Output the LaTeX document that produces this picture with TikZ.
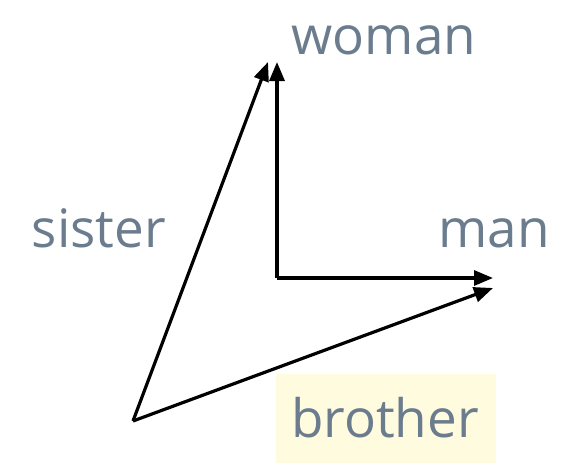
\documentclass[tikz,border=0pt]{standalone}
\usepackage{fontspec}
\setmainfont{Open Sans}
\usetikzlibrary{arrows.meta, positioning}
\definecolor{labelgray}{HTML}{6A7C8E}
\definecolor{paleyellow}{HTML}{FFFBDF}

\begin{document}
\begin{tikzpicture}[x=1pt, y=-1pt, vec/.style={-{Triangle[length=19pt, width=15pt]}, line width=3.2pt},
  word/.style={text=labelgray, font=\fontsize{53}{58}\selectfont, inner sep=0pt, anchor=base}]
  \useasboundingbox (0,0) rectangle (567,464);
  % Origins and tips
  \coordinate (o1) at (277,278);
  \coordinate (o2) at (133,421);
  \coordinate (wtip) at (277,62);
  \coordinate (mtip) at (493,278);
  \coordinate (stip) at (268,62);
  \coordinate (btip) at (493,288);

  % Highlight box
  \node (bbox) [fill=paleyellow, minimum width=220pt, minimum height=89pt, inner sep=0pt] at (386,418.5) {};

  % Labels
  \node (woman) [word] at (384,54) {woman};
  \node (man) [word] at (494,247) {man};
  \node (sister) [word] at (99,247) {sister};
  \node (brother) [word] at (385,437) {brother};

  % Vectors
  \draw[vec, line join=miter] (o1) -- (wtip);
  \draw[vec] (o1) -- (mtip);
  \draw[vec] (o2) -- (stip);
  \draw[vec] (o2) -- (btip);
\end{tikzpicture}
\end{document}
